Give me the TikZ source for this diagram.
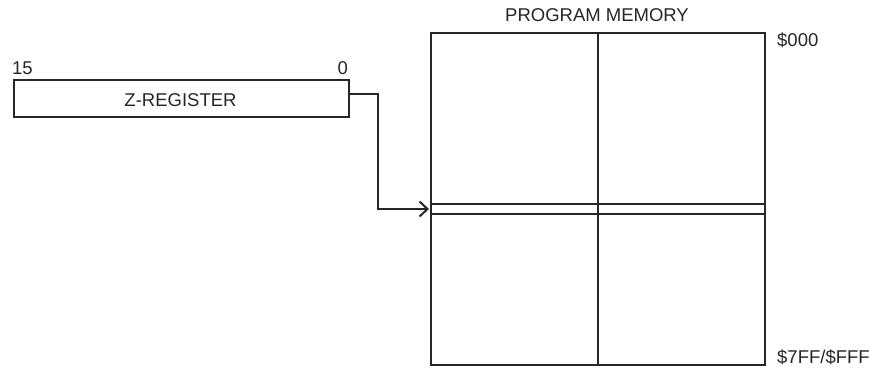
\documentclass[tikz,border=0pt]{standalone}
\usepackage{fontspec}
\setmainfont{Liberation Sans}
\usetikzlibrary{arrows.meta}
\begin{document}
\begin{tikzpicture}[x=1pt,y=-1pt,
  lbl/.style={font=\fontsize{18.5}{21}\selectfont, inner sep=0pt, text=black!85},
  box/.style={draw=black!85, line width=2.3pt},
  thin/.style={draw=black!85, line width=1.5pt},
  conn/.style={draw=black!85, line width=2.2pt, -{Straight Barb[length=8pt,width=15pt,line width=2pt]}}]
\useasboundingbox (0,0) rectangle (870,368);
% Z register
\node[box, minimum width=335pt, minimum height=37pt, inner sep=0pt, anchor=north west] (zreg) at (13,79) {};
\node[lbl, anchor=base] (zlab) at (180.5,106) {Z-REGISTER};
\node[lbl, anchor=base west] (b15) at (12,74) {15};
\node[lbl, anchor=base east] (b0) at (348,74) {0};
% Program memory
\node[box, minimum width=334pt, minimum height=332pt, inner sep=0pt, anchor=north west] (mem) at (430,32) {};
\coordinate (midtop) at (598,32);
\coordinate (midbot) at (598,364);
\draw[box] (midtop) -- (midbot);
\coordinate (l1) at (430,204); \coordinate (r1) at (764,204);
\coordinate (l2) at (430,214); \coordinate (r2) at (764,214);
\draw[thin] (l1) -- (r1);
\draw[thin] (l2) -- (r2);
\node[lbl, anchor=base] (pm) at (597,21) {PROGRAM MEMORY};
\node[lbl, anchor=base west] (a0) at (777,46) {\$000};
\node[lbl, anchor=base west] (a1) at (777,363) {\$7FF/\$FFF};
% connector
\coordinate (tgt) at (429,209);
\draw[conn] (zreg.east |- 0,94) -| (378,209) -- (tgt);
\end{tikzpicture}
\end{document}
